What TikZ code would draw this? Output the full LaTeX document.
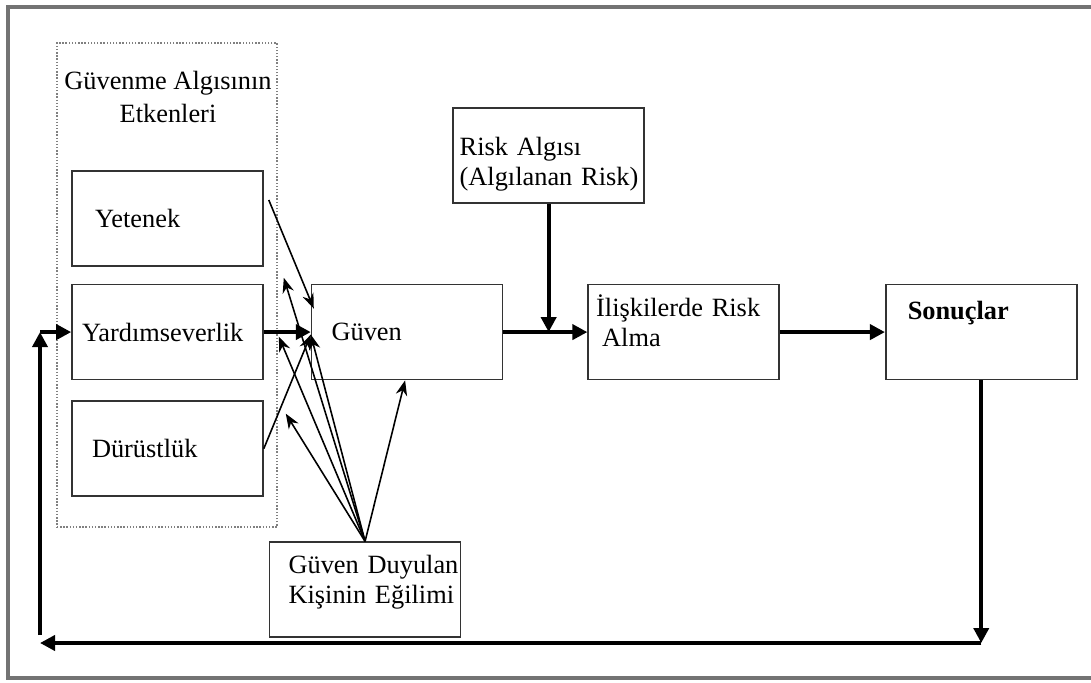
\documentclass[tikz,border=0pt]{standalone}
\usepackage{fontspec}
\setmainfont{Liberation Serif}
\usetikzlibrary{arrows.meta,positioning}

\begin{document}
\begin{tikzpicture}[>=Stealth, node distance=3mm,
    font=\fontsize{15}{17}\selectfont,
    kutu/.style={draw=black!80, line width=0.9pt, minimum width=3.82cm, minimum height=1.9cm,
      inner xsep=0pt, text width=3.02cm, align=left},
    grup/.style={draw=black!50, densely dotted, line width=0.8pt, minimum width=4.4cm, minimum height=9.68cm},
    kalin/.style={-{Triangle[length=3mm,width=3mm]}, line width=2.2pt},
    ince/.style={-{Stealth[length=3mm,width=2.3mm]}, line width=0.9pt}]
  \useasboundingbox (0,0) rectangle (21.82,13.64);
  \draw[black!55, line width=2pt] (21.95,13.5) -| (0.16,0.08) -- (21.95,0.08);

  % etkenler
  \node[grup] (etken) at (3.34,7.94) {};
  \node[align=center, font=\fontsize{15}{19.3}\selectfont] (baslik) at (3.36,11.7) {Güvenme Algısının\\Etkenleri};
  \node[kutu, text width=2.9cm] (yetenek) at (3.35,9.27) {Yetenek};
  \node[kutu, text width=3.42cm, below=0.34cm of yetenek] (yardim) {Yardımseverlik};
  \node[kutu, below=0.4cm of yardim] (durust) {Dürüstlük};

  % ana akis
  \node[kutu, right=0.94cm of yardim] (guven) {Güven};
  \node[kutu, text width=3.5cm, text height=0.36cm, text depth=0.98cm, right=1.68cm of guven] (iliski)
    {\mbox{İlişkilerde Risk}\\\hspace*{0.12cm}Alma};
  \node[kutu, text width=3.56cm, text height=0.36cm, text depth=0.36cm, above=1.6cm of iliski, xshift=-2.7cm] (risk)
    {Risk Algısı\\\mbox{(Algılanan Risk)}};
  \node[kutu, text width=2.94cm, text height=0.36cm, text depth=0.86cm, right=2.1cm of iliski] (sonuc) {\textbf{Sonuçlar}};
  \node[kutu, text width=3.06cm, text height=0.36cm, text depth=1.0cm, below=3.22cm of guven, xshift=-0.84cm] (egilim)
    {\mbox{Güven Duyulan}\\\mbox{Kişinin Eğilimi}};

  \coordinate (kesisim) at (risk.south |- guven.east);
  \coordinate (sol) at (0.8,0.78);
  \coordinate (sagalt) at (sonuc.south |- sol);
  \coordinate (solust) at (sol |- yardim.west);

  \draw[kalin] (yardim.east) -- (guven.west);
  \draw[kalin] (guven.east) -- (iliski.west);
  \draw[kalin] (risk.south) -- (kesisim);
  \draw[kalin] (iliski.east) -- (sonuc.west);
  \draw[kalin] (sonuc.south) -- (sagalt);
  \draw[kalin] (sagalt) -- (sol);
  \draw[kalin] ([yshift=0.16cm]sol) -- (solust);
  \draw[kalin] (solust) -- (yardim.west);

  \draw[ince] ([shift={(0.1,0.37)}]yetenek.east) -- ([shift={(0.06,0.47)}]guven.west);
  \draw[ince] (durust.east) -- ([yshift=-0.05cm]guven.west);
  \draw[ince] (egilim.north) -- ([shift={(0.4,0.12)}]yardim.north east);
  \draw[ince] (egilim.north) -- ([shift={(0.3,-0.09)}]yardim.east);
  \draw[ince] (egilim.north) -- ([shift={(0.44,0.7)}]durust.east);
  \draw[ince] (egilim.north) -- ([yshift=-0.05cm]guven.west);
  \draw[ince] (egilim.north) -- ([xshift=-0.04cm]guven.south);
\end{tikzpicture}
\end{document}
